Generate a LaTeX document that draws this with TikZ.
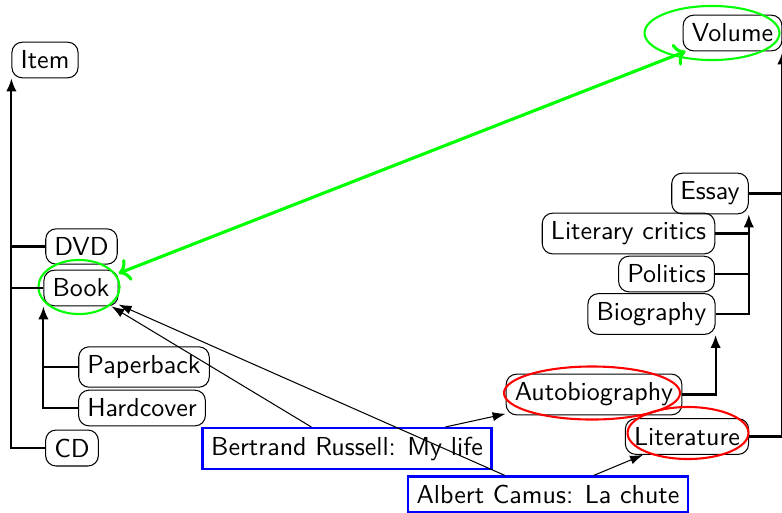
\documentclass[tikz,border=0pt]{standalone}
\usetikzlibrary{arrows.meta,shapes.geometric}
\begin{document}
\begin{tikzpicture}[x=0.3846pt, y=-0.3846pt,
  font=\sffamily,
  item/.style={draw, rounded corners, thin},
  work/.style={draw=blue, thick, rectangle},
  treeline/.style={thick},
  treearrow/.style={thick, -{Latex[length=5pt,width=4pt]}},
  instarrow/.style={thin, -{Latex[length=5pt,width=3.5pt]}},
  sameas/.style={very thick, green, <->},
  greenring/.style={draw=green, thick, ellipse, inner sep=0pt},
  redring/.style={draw=red, thick, ellipse, inner sep=0pt}]
\useasboundingbox (0,0) rectangle (782,512);

% left hierarchy
\node[item] (item) at (45,60) {Item};
\node[item] (dvd) at (81.5,246.5) {DVD};
\node[item] (book) at (81,288) {Book};
\node[item] (paperback) at (144,367) {Paperback};
\node[item] (hardcover) at (142,408) {Hardcover};
\node[item] (cd) at (72,448) {CD};

% right hierarchy
\node[item] (volume) at (732.5,33) {Volume};
\node[item] (essay) at (710,193.5) {Essay};
\node[item] (critics) at (628.5,233.5) {Literary critics};
\node[item] (politics) at (666.5,274) {Politics};
\node[item] (biography) at (651.5,314) {Biography};
\node[item] (autobio) at (594,394.5) {Autobiography};
\node[item] (literature) at (687,436.5) {Literature};

% works
\node[work] (russell) at (347,448.5) {Bertrand Russell: My life};
\node[work] (camus) at (548,494.5) {Albert Camus: La chute};

% highlight rings
\node[greenring, minimum width=31.2pt, minimum height=20.8pt] (ringbook) at (79,287) {};
\node[greenring, minimum width=51.9pt, minimum height=20.8pt] (ringvolume) at (712,33) {};
\node[redring, minimum width=67.7pt, minimum height=20.4pt] (ringautobio) at (592,393) {};
\node[redring, minimum width=46.5pt, minimum height=20pt] (ringlit) at (688,433) {};

% subclass trees
\draw[treearrow] (cd.west) -| (item.south west);
\draw[treeline] (dvd.west) -- (dvd.west -| item.south west);
\draw[treeline] (book.west) -- (book.west -| item.south west);
\draw[treearrow] (hardcover.west) -| (book.south west);
\draw[treeline] (paperback.west) -- (paperback.west -| book.south west);

\draw[treearrow] (literature.east) -| (volume.south east);
\draw[treeline] (essay.east) -- (essay.east -| volume.south east);
\draw[treearrow] (biography.east) -| (essay.south east);
\draw[treeline] (politics.east) -- (politics.east -| essay.south east);
\draw[treeline] (critics.east) -- (critics.east -| essay.south east);
\draw[treearrow] (autobio.east) -| (biography.south east);

% instance links
\draw[instarrow] (russell) -- (book);
\draw[instarrow] (camus) -- (book);
\draw[instarrow] (russell) -- (autobio);
\draw[instarrow] (camus) -- (literature);

% equivalence
\draw[sameas] (book) -- (volume);
\end{tikzpicture}
\end{document}
